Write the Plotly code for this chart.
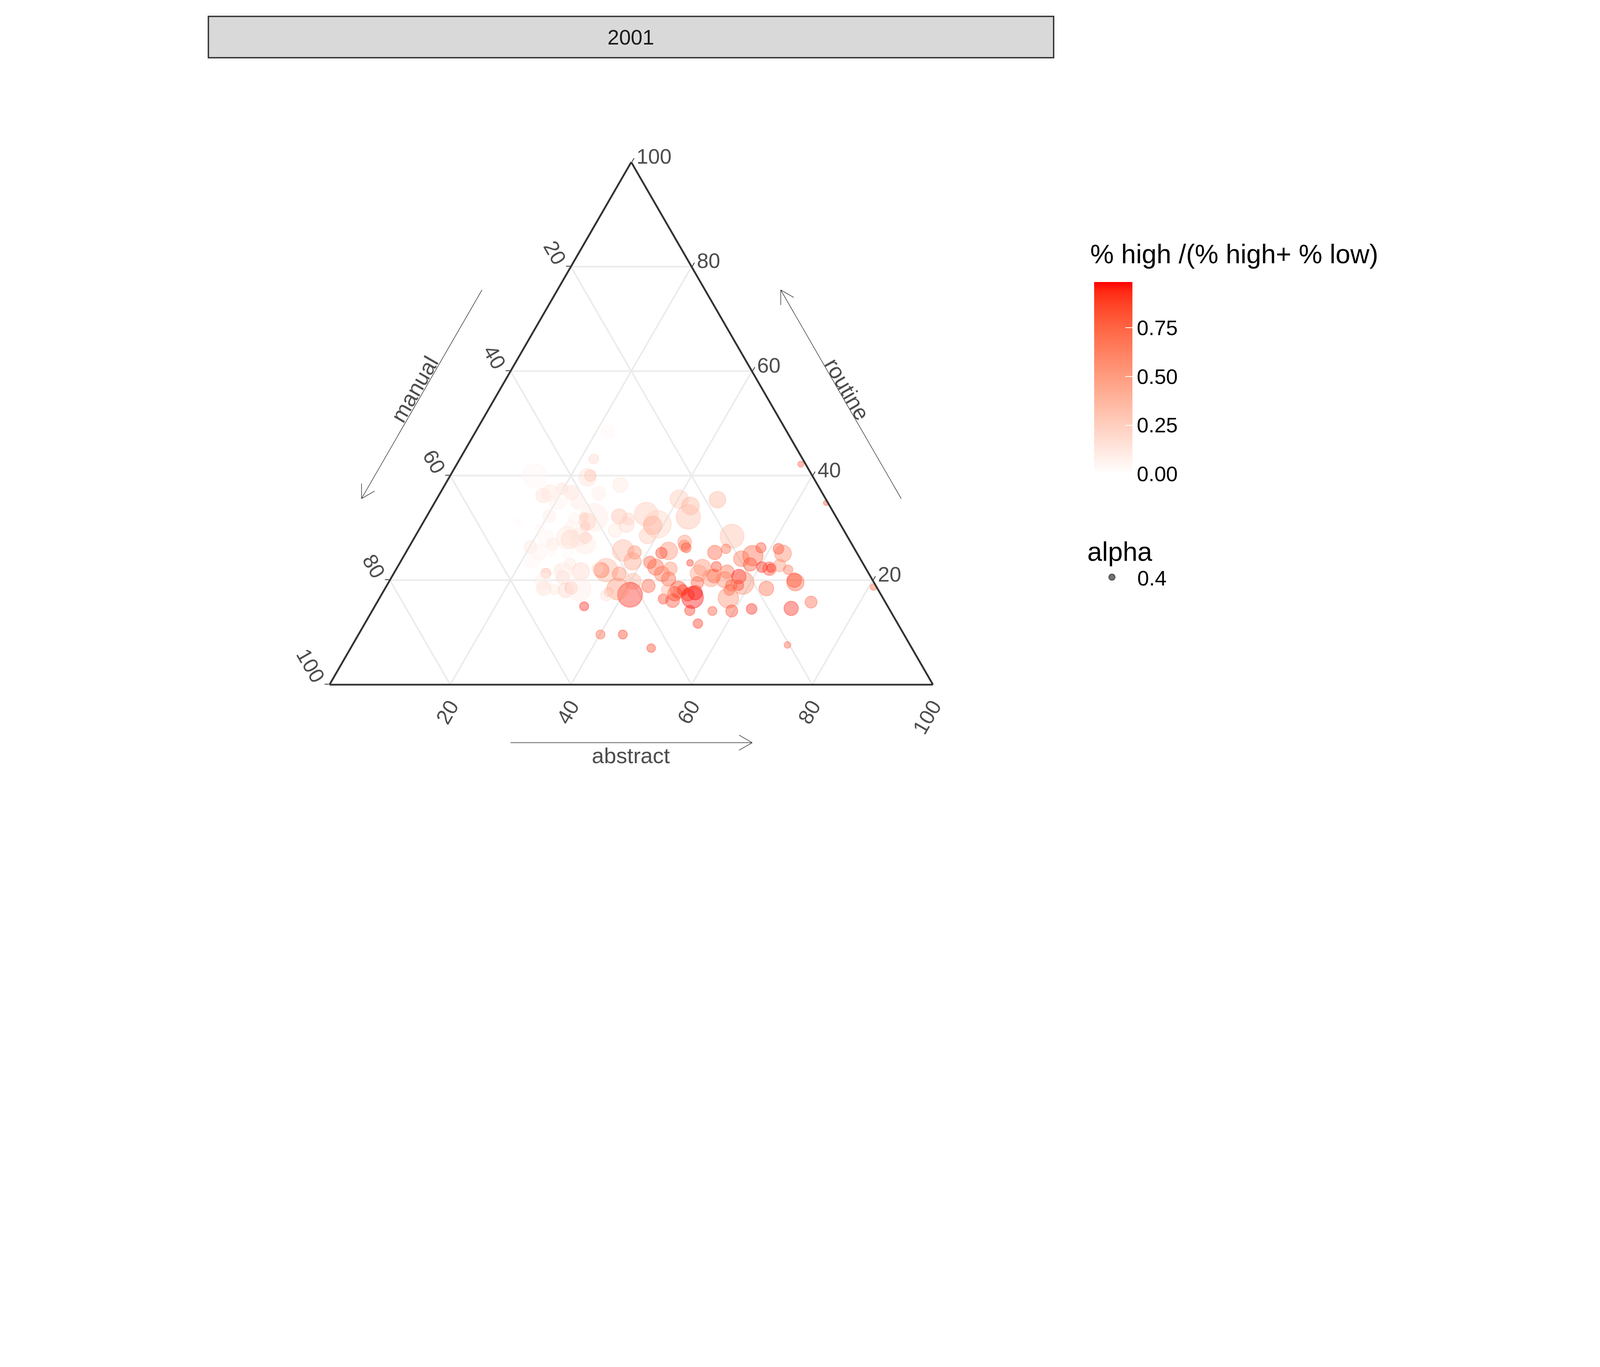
import math
import plotly.graph_objects as go

# values (percent shares)
routine = [40.0, 39.7, 40.0, 38.2, 36.6, 36.2, 36.7, 37.5, 36.8, 35.4,
           35.0, 32.0, 31.2, 32.1, 30.3, 32.3, 31.1, 30.0, 31.8, 30.3,
           32.2, 31.7, 30.6, 29.5, 32.6, 30.7, 30.5, 28.5, 28.1, 27.8,
           28.3, 27.0, 28.1, 26.5, 28.1, 26.9, 26.4, 25.4, 23.8, 25.2,
           25.4, 25.7, 25.3, 23.6, 23.4, 21.9, 21.9, 22.2, 21.2, 19.8,
           18.9, 17.2, 18.3, 17.7, 17.1, 23.1, 22.1, 21.7, 21.6, 20.5,
           21.3, 19.7, 18.4, 18.2, 18.1, 18.5, 18.3, 15.0, 48.4, 43.2,
           35.5, 34.2, 32.1, 27.3, 26.6, 26.2, 25.6, 25.2, 23.3, 28.4,
           25.3, 26.0, 26.2, 24.7, 24.1, 23.0, 22.5, 22.2, 22.3, 26.0,
           25.1, 22.8, 22.0, 20.0, 19.6, 22.4, 21.3, 20.4, 20.8, 22.6,
           21.6, 20.1, 20.7, 19.0, 19.5, 19.0, 18.1, 16.6, 14.1, 14.5,
           18.4, 14.6, 7.6, 14.1, 11.7, 7.0, 14.2, 16.7, 17.6, 17.2,
           18.1, 18.2, 19.5, 16.1, 17.4, 16.4, 20.2, 21.2, 22.5, 22.2,
           18.1, 42.2, 34.8, 18.7, 35.4, 15.8, 9.6, 9.6]
abstract = [14.0, 22.9, 23.2, 29.1, 26.3, 17.3, 18.2, 19.8, 21.7, 20.1,
            23.7, 27.8, 27.1, 26.1, 27.2, 20.3, 15.7, 19.8, 24.6, 24.9,
            31.9, 33.7, 33.9, 32.6, 36.2, 39.0, 38.3, 38.4, 25.4, 26.0,
            27.4, 28.8, 28.4, 30.1, 21.8, 23.5, 20.1, 22.0, 21.7, 24.2,
            26.7, 35.8, 37.9, 38.4, 41.4, 34.9, 34.1, 33.3, 37.4, 40.4,
            43.4, 41.2, 38.6, 37.4, 37.3, 28.3, 27.0, 30.8, 27.9, 28.4,
            25.2, 25.6, 26.3, 28.2, 30.1, 30.8, 32.2, 34.7, 21.9, 22.2,
            40.2, 42.7, 43.4, 45.2, 45.5, 46.0, 43.4, 42.4, 48.1, 52.5,
            51.2, 52.7, 58.4, 57.8, 56.2, 58.2, 60.4, 61.8, 62.0, 61.4,
            62.6, 63.2, 65.0, 67.0, 67.4, 50.6, 50.5, 53.0, 53.3, 52.8,
            55.1, 55.4, 57.5, 58.3, 58.7, 57.1, 57.2, 57.8, 59.6, 62.7,
            63.2, 69.2, 72.1, 56.4, 55.2, 49.8, 52.6, 51.8, 51.8, 50.8,
            49.5, 48.7, 51.2, 48.8, 48.5, 47.1, 46.1, 44.5, 42.8, 45.4,
            46.9, 57.0, 64.9, 80.8, 46.6, 71.9, 40.1, 43.8]
manual = [46.0, 37.4, 36.8, 32.7, 37.1, 46.5, 45.1, 42.7, 41.5, 44.5,
          41.3, 40.2, 41.7, 41.8, 42.5, 47.4, 53.2, 50.2, 43.6, 44.8,
          35.9, 34.6, 35.5, 37.9, 31.2, 30.3, 31.2, 33.1, 46.5, 46.2,
          44.3, 44.2, 43.5, 43.4, 50.1, 49.6, 53.5, 52.6, 54.5, 50.6,
          47.9, 38.5, 36.8, 38.0, 35.2, 43.2, 44.0, 44.5, 41.4, 39.8,
          37.7, 41.6, 43.1, 44.9, 45.6, 48.6, 50.9, 47.5, 50.5, 51.1,
          53.5, 54.7, 55.3, 53.6, 51.8, 50.7, 49.5, 50.3, 29.7, 34.6,
          24.3, 23.1, 24.5, 27.5, 27.9, 27.8, 31.0, 32.4, 28.6, 19.1,
          23.5, 21.3, 15.4, 17.5, 19.7, 18.8, 17.1, 16.0, 15.7, 12.6,
          12.3, 14.0, 13.0, 13.0, 13.0, 27.0, 28.2, 26.6, 25.9, 24.6,
          23.3, 24.5, 21.8, 22.7, 21.8, 23.9, 24.7, 25.6, 26.3, 22.8,
          18.4, 16.2, 20.3, 29.5, 33.1, 43.2, 33.2, 31.5, 30.6, 32.0,
          32.4, 33.1, 29.3, 35.1, 34.1, 36.5, 33.7, 34.3, 34.7, 32.4,
          35.0, 0.8, 0.3, 0.5, 18.0, 12.3, 50.3, 46.6]
share_high = [0.05, 0.17, 0.30, 0.13, 0.09, 0.17, 0.13, 0.17, 0.17, 0.07,
              0.11, 0.11, 0.25, 0.25, 0.30, 0.09, 0.03, 0.05, 0.07, 0.07,
              0.35, 0.25, 0.21, 0.13, 0.30, 0.25, 0.43, 0.30, 0.13, 0.21,
              0.15, 0.11, 0.25, 0.05, 0.05, 0.13, 0.13, 0.07, 0.05, 0.05,
              0.03, 0.40, 0.60, 0.50, 0.83, 0.40, 0.70, 0.21, 0.60, 0.40,
              0.80, 0.95, 0.56, 0.40, 0.17, 0.13, 0.09, 0.21, 0.11, 0.17,
              0.40, 0.07, 0.17, 0.13, 0.21, 0.35, 0.09, 0.95, 0.05, 0.21,
              0.30, 0.40, 0.35, 0.56, 0.65, 0.85, 0.60, 0.90, 0.93, 0.35,
              0.80, 0.75, 0.88, 0.78, 0.70, 0.83, 0.95, 0.88, 0.95, 0.90,
              0.65, 0.56, 0.70, 0.88, 0.78, 0.60, 0.50, 0.56, 0.75, 0.90,
              0.75, 0.65, 0.98, 0.96, 0.60, 0.78, 0.80, 0.60, 0.88, 0.95,
              0.75, 0.95, 0.80, 0.85, 0.93, 0.90, 0.93, 0.985, 0.985, 0.93,
              0.93, 0.90, 0.80, 0.85, 0.88, 0.88, 0.80, 0.70, 0.78, 0.60,
              0.40, 0.80, 0.83, 0.78, 0.40, 0.78, 0.80, 0.90]
point_size = [106, 77, 50, 66, 60, 64, 70, 50, 62, 83,
              66, 122, 73, 37, 39, 56, 39, 37, 50, 54,
              66, 52, 66, 60, 104, 120, 80, 70, 99, 79,
              79, 91, 50, 46, 70, 54, 56, 70, 68, 33,
              54, 93, 58, 75, 54, 102, 66, 48, 60, 70,
              58, 108, 95, 39, 50, 50, 41, 75, 79, 58,
              44, 73, 62, 44, 66, 54, 104, 39, 60, 43,
              80, 77, 106, 60, 49, 43, 77, 49, 29, 104,
              62, 41, 44, 89, 68, 58, 46, 58, 37, 46,
              73, 54, 41, 63, 75, 73, 73, 75, 60, 44,
              60, 70, 62, 44, 100, 50, 46, 89, 52, 46,
              64, 62, 29, 39, 41, 37, 44, 95, 62, 54,
              46, 73, 54, 60, 62, 44, 62, 66, 70, 58,
              50, 26, 23, 29, 72, 52, 39, 39]

colorbar_ticks = [0, 0.25, 0.5, 0.75]
colorbar_labels = ["0.00", "0.25", "0.50", "0.75"]
edge_ticks = [0, 20, 40, 60, 80]
edge_labels = ["100", "80", "60", "40", "20"]

# layout was measured on a 7000x3500 canvas; the browser gives us 4096 px of width
REF_W, REF_H = 7000, 3500
W = 4096
H = int(W * REF_H / REF_W)
S = W / REF_W
FONT = "Liberation Sans, Arial, sans-serif"
ALPHA = 0.55
CMAX = 0.985

# white -> red, interpolated in Lab like ggplot's gradient
stops = [(0, (255, 255, 255)), (0.25, (255, 207, 191)), (0.5, (255, 158, 129)),
         (0.75, (255, 104, 70)), (0.875, (255, 70, 40)), (0.95, (255, 42, 19)),
         (1, (255, 0, 0))]
solid_scale = [[t, "rgb(%d,%d,%d)" % c] for t, c in stops]
see_through = [[t, "rgba(%d,%d,%d,%.2f)" % (c + (ALPHA,))] for t, c in stops]


def px(x):
    return x / REF_W


def py(y):
    return 1 - y / REF_H


def arrow(x0, y0, x1, y1, head=66):
    ang = math.atan2(y1 - y0, x1 - x0)
    line = dict(color="#333333", width=2.5 * S)
    out = [dict(type="line", xref="paper", yref="paper",
                x0=px(x0), y0=py(y0), x1=px(x1), y1=py(y1), line=line)]
    for d in (math.radians(30), -math.radians(30)):
        hx = x1 - head * math.cos(ang + d)
        hy = y1 - head * math.sin(ang + d)
        out.append(dict(type="line", xref="paper", yref="paper",
                        x0=px(hx), y0=py(hy), x1=px(x1), y1=py(y1), line=line))
    return out


def edge_axis(angle, ticklen=18):
    return dict(
        min=0, title=dict(text=""),
        tickmode="array", tickvals=edge_ticks, ticktext=edge_labels,
        tickangle=angle, tickfont=dict(family=FONT, size=92 * S, color="#4D4D4D"),
        ticks="outside" if ticklen else "", ticklen=ticklen * S,
        tickwidth=4 * S, tickcolor="#333333",
        showline=True, linecolor="#333333", linewidth=8 * S,
        showgrid=True, gridcolor="#EBEBEB", gridwidth=6 * S,
    )


fig = go.Figure()

fig.add_trace(go.Scatterternary(
    a=routine, b=manual, c=abstract, mode="markers", showlegend=False,
    marker=dict(size=[d * S for d in point_size], color=share_high,
                colorscale=see_through, cmin=0, cmax=CMAX, showscale=False,
                line=dict(width=4.5 * S, color=share_high, colorscale=see_through,
                          cmin=0, cmax=CMAX)),
    hoverinfo="skip",
))

# colour bar only
fig.add_trace(go.Scatterternary(
    a=routine, b=manual, c=abstract, mode="markers", showlegend=False,
    marker=dict(size=1, opacity=0, color=share_high, colorscale=solid_scale,
                cmin=0, cmax=CMAX, showscale=True,
                colorbar=dict(
                    x=px(4773), xanchor="left", xpad=0,
                    y=py(1640), yanchor="middle", ypad=0,
                    len=839 * S, lenmode="pixels", thickness=167 * S,
                    outlinewidth=0, tickmode="array",
                    tickvals=colorbar_ticks, ticktext=colorbar_labels,
                    ticks="inside", ticklen=30 * S, tickwidth=3 * S, tickcolor="white",
                    tickfont=dict(family=FONT, size=92 * S, color="black"))),
    hoverinfo="skip",
))

# alpha legend key
fig.add_trace(go.Scatterternary(
    a=[None], b=[None], c=[None], mode="markers", name="0.4",
    marker=dict(size=40 * S, color="rgba(0,0,0,0.55)",
                line=dict(width=4 * S, color="rgba(0,0,0,0.55)")),
    hoverinfo="skip",
))

shapes = [dict(type="rect", xref="paper", yref="paper",
               x0=px(898), x1=px(4596), y0=py(239), y1=py(58),
               fillcolor="#D9D9D9", line=dict(color="#333333", width=6 * S),
               layer="below")]
shapes += arrow(2220, 3236, 3277, 3236)
shapes += arrow(2095, 1255, 1568, 2168)
shapes += arrow(3929, 2168, 3402, 1255)

title_font = dict(family=FONT, size=96 * S, color="#4D4D4D")


def label(text, x, y, font, angle=0, xanchor="center"):
    return dict(text=text, x=px(x), y=py(y), xref="paper", yref="paper",
                xanchor=xanchor, yanchor="middle", showarrow=False,
                textangle=angle, font=font)


annotations = [
    label("2001", 2746, 148, dict(family=FONT, size=92 * S, color="#1A1A1A")),
    label("abstract", 2746, 3293, title_font),
    label("manual", 1800, 1689, title_font, -60),
    label("routine", 3693, 1689, title_font, 60),
    label("% high /(% high+ % low)", 4752, 1098,
          dict(family=FONT, size=116 * S, color="black"), xanchor="left"),
]

fig.update_layout(
    width=W, height=H,
    margin=dict(l=0, r=0, t=0, b=0),
    paper_bgcolor="white", plot_bgcolor="white",
    ternary=dict(
        sum=100, bgcolor="white",
        domain=dict(x=[px(1428), px(4068)], y=[py(2984), py(694)]),
        aaxis=edge_axis(60),
        baxis=edge_axis(-60, ticklen=0),
        caxis=edge_axis(0),
    ),
    legend=dict(
        title=dict(text="alpha", font=dict(family=FONT, size=116 * S, color="black")),
        font=dict(family=FONT, size=92 * S, color="black"),
        x=px(4740), xanchor="left", y=py(2290), yanchor="top",
        itemwidth=120, bgcolor="rgba(0,0,0,0)",
    ),
    shapes=shapes,
    annotations=annotations,
)

fig.write_html("out.html")
